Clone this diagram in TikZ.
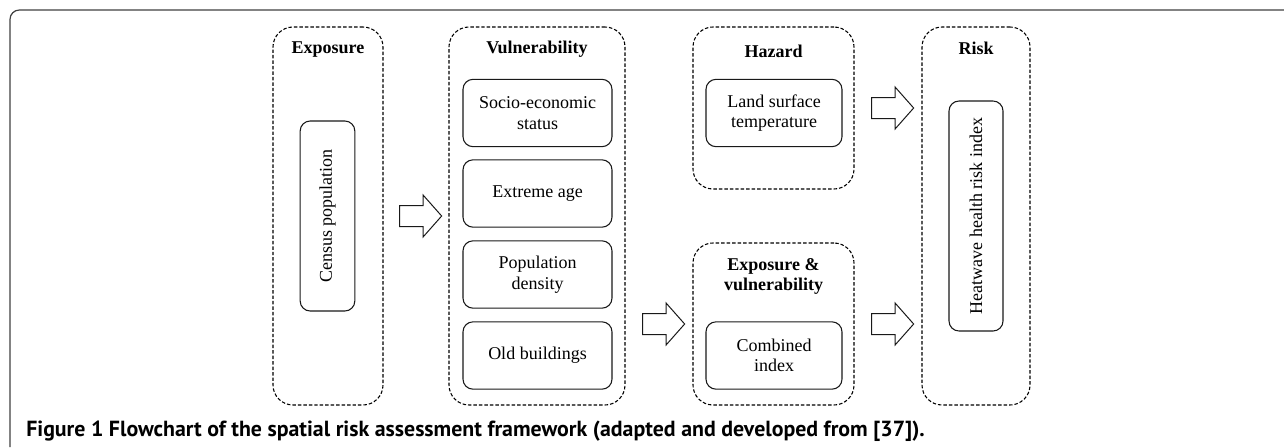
\documentclass[tikz,border=0pt]{standalone}
\usepackage{fontspec}
\setmainfont{Liberation Serif}
\newfontfamily\capfont{PT Sans}
\usepackage{tikz}
\usetikzlibrary{shapes.arrows,calc,positioning}
\tikzset{
  group/.style={draw=black, dash pattern=on 2.6pt off 1.5pt, line width=0.8pt,
    rounded corners=15pt, minimum width=#1, minimum height=283.5pt},
  grouptitle/.style={font=\fontsize{13.5}{15.5}\selectfont\bfseries, align=center, inner sep=0pt},
  item/.style={draw=black!90, line width=0.8pt, rounded corners=7.5pt, align=center,
    font=\fontsize{13.5}{15.5}\selectfont, inner sep=2pt, minimum width=#1, minimum height=50.5pt},
  upitem/.style={item=#1, rotate=90, minimum height=41pt},
  blockarrow/.style={draw=black!90, line width=0.75pt, single arrow, inner xsep=0pt, inner ysep=7.5pt,
    single arrow head extend=7.9pt, single arrow tip angle=97, minimum height=31.5pt}
}
\begin{document}
\begin{tikzpicture}[x=0.75pt, y=-0.75pt]
  \useasboundingbox (0,0) rectangle (1284,447);
  % frame
  \draw[black!75, line width=0.9pt, rounded corners=7pt] (10,447) -- (10,10) -- (1284,10);

  % exposure
  \node[group=82.5pt] (expo) at (328,216) {};
  \node[grouptitle] (expot) at ([yshift=-17pt]expo.north) {Exposure};
  \node[upitem=142.5pt] (census) at (327.5,216) {Census population};

  % vulnerability
  \node[group=132pt] (vuln) at (537,216) {};
  \node[grouptitle] (vulnt) at ([yshift=-17pt]vuln.north) {Vulnerability};
  \node[item=111.75pt] (socio) at (537.5,113) {Socio-economic\\status};
  \node[item=111.75pt] (age) at (537.5,193.5) {Extreme age};
  \node[item=111.75pt] (dens) at (537.5,274.5) {Population\\density};
  \node[item=111.75pt] (old) at (537.5,355.5) {Old buildings};

  % hazard
  \node[group=120.75pt, minimum height=121.5pt] (haz) at (773.5,108) {};
  \node[grouptitle] (hazt) at ([yshift=-18.5pt]haz.north) {Hazard};
  \node[item=102pt] (lst) at (774,113) {Land surface\\temperature};

  % exposure & vulnerability
  \node[group=120.75pt, minimum height=121.5pt] (expvul) at (773.5,324) {};
  \node[grouptitle] (expvult) at ([yshift=-25.5pt]expvul.north) {Exposure \&\\vulnerability};
  \node[item=102pt] (comb) at (774,355.5) {Combined\\index};

  % risk
  \node[group=81pt] (risk) at (976,216) {};
  \node[grouptitle] (riskt) at ([yshift=-16.5pt]risk.north) {Risk};
  \node[upitem=172.5pt, minimum height=40.5pt] (hhri) at (976,216) {Heatwave health risk index};

  % arrows
  \node[blockarrow] (a1) at ($(expo.east)!0.5!(vuln.west)$) {};
  \node[blockarrow] (a2) at ($(vuln.east |- expvul.west)!0.5!(expvul.west)$) {};
  \node[blockarrow] (a3) at ($(haz.east)!0.5!(risk.west |- haz.east)$) {};
  \node[blockarrow] (a4) at ($(expvul.east)!0.5!(risk.west |- expvul.east)$) {};

  % caption
  \node[anchor=west, inner sep=0pt, font=\capfont\fontsize{16.4}{19}\selectfont\bfseries] (cap) at (26,431)
    {Figure 1 Flowchart of the spatial risk assessment framework (adapted and developed from [37]).};
\end{tikzpicture}
\end{document}
